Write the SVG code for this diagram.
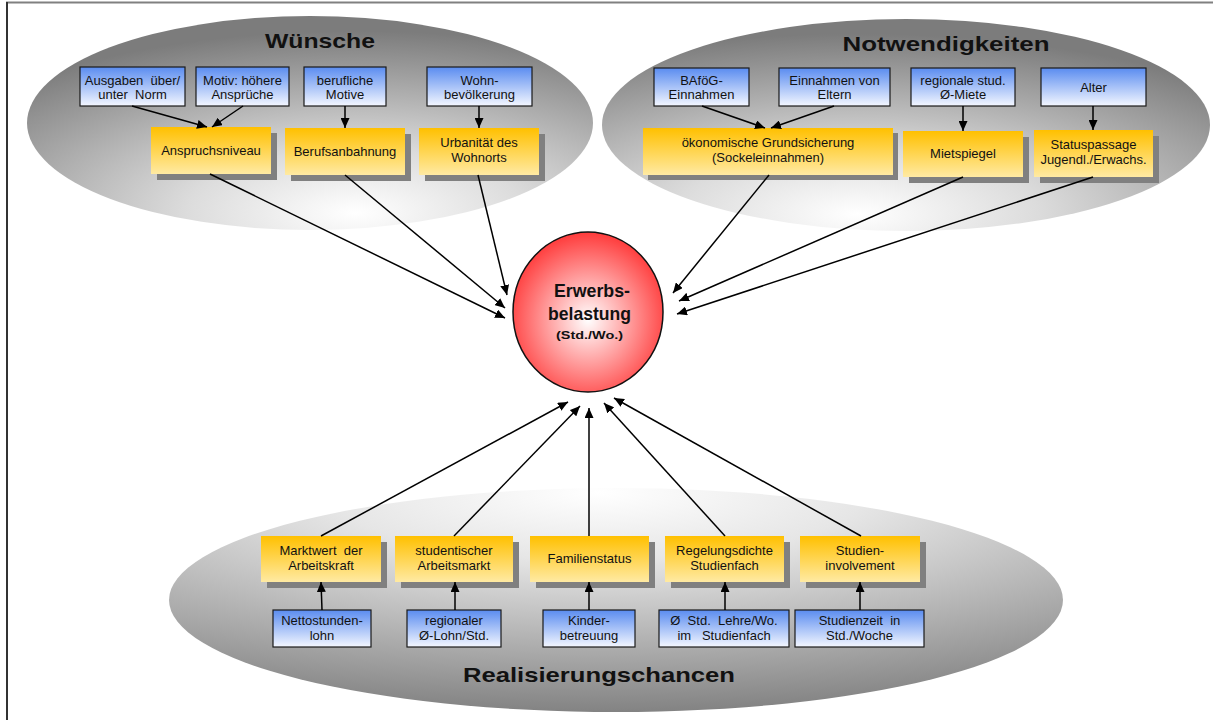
<svg xmlns="http://www.w3.org/2000/svg" width="1218" height="724" viewBox="0 0 1218 724" xml:space="preserve">
<defs>
<radialGradient id="gW" cx="0.58" cy="0.92" r="0.85" fx="0.58" fy="0.92">
<stop offset="0" stop-color="#ffffff"/><stop offset="0.35" stop-color="#dcdcdc"/><stop offset="1" stop-color="#7c7c7c"/>
</radialGradient>
<radialGradient id="gN" cx="0.42" cy="0.92" r="0.85" fx="0.42" fy="0.92">
<stop offset="0" stop-color="#ffffff"/><stop offset="0.35" stop-color="#dcdcdc"/><stop offset="1" stop-color="#7c7c7c"/>
</radialGradient>
<radialGradient id="gR" cx="0.48" cy="0.02" r="1.0" fx="0.48" fy="0.02">
<stop offset="0" stop-color="#ffffff"/><stop offset="0.3" stop-color="#e6e6e6"/><stop offset="1" stop-color="#808080"/>
</radialGradient>
<radialGradient id="gC" cx="0.5" cy="0.55" r="0.55">
<stop offset="0" stop-color="#ffffff"/><stop offset="1" stop-color="#ff3b3b"/>
</radialGradient>
<linearGradient id="gO" x1="0" y1="0" x2="0" y2="1">
<stop offset="0" stop-color="#ffc000"/><stop offset="1" stop-color="#ffeaa3"/>
</linearGradient>
<linearGradient id="gB" x1="0" y1="0" x2="0" y2="1">
<stop offset="0" stop-color="#5a8cf0"/><stop offset="1" stop-color="#f4f7ff"/>
</linearGradient>
<marker id="ah" markerUnits="userSpaceOnUse" markerWidth="11" markerHeight="9" refX="10" refY="4.5" orient="auto">
<path d="M0,0 L10,4.5 L0,9 z" fill="#000"/>
</marker>
<style>
.t{font-family:"Liberation Sans",Arial,sans-serif;font-size:13px;fill:#111;text-anchor:middle;white-space:pre}
.h{font-family:"Liberation Sans",Arial,sans-serif;font-weight:bold;font-size:21px;fill:#111;text-anchor:middle}
.o{fill:url(#gO)}
.s{fill:#808080}
.b{fill:url(#gB);stroke:#1a1a1a;stroke-width:1.2}
.c line{stroke:#000;stroke-width:1.5;marker-end:url(#ah)}
</style>
</defs>
<rect x="0" y="0" width="1218" height="724" fill="#fff"/>
<line x1="6" y1="2.5" x2="1213" y2="2.5" stroke="#808080" stroke-width="2"/>
<line x1="7" y1="2" x2="7" y2="720" stroke="#333" stroke-width="2"/>
<g id="wuensche">
<ellipse cx="310" cy="123" rx="283" ry="107" fill="url(#gW)"/>
<text class="h" x="320" y="48" textLength="110" lengthAdjust="spacingAndGlyphs">Wünsche</text>
</g>
<g id="notwendigkeiten">
<ellipse cx="906" cy="125" rx="304" ry="106" fill="url(#gN)"/>
<text class="h" x="946" y="51" textLength="207" lengthAdjust="spacingAndGlyphs">Notwendigkeiten</text>
</g>
<g id="realisierungschancen">
<ellipse cx="616" cy="600" rx="447" ry="112" fill="url(#gR)"/>
<text class="h" x="599" y="682" textLength="272" lengthAdjust="spacingAndGlyphs">Realisierungschancen</text>
</g>
<g id="b1"><rect class="b" x="80" y="67" width="105" height="39"/><text class="t" x="132.5" y="85">Ausgaben  über/</text><text class="t" x="132.5" y="99">unter  Norm</text></g>
<g id="b2"><rect class="b" x="196" y="67" width="93" height="39"/><text class="t" x="242.5" y="85">Motiv: höhere</text><text class="t" x="242.5" y="99">Ansprüche</text></g>
<g id="b3"><rect class="b" x="304" y="67" width="82" height="39"/><text class="t" x="345" y="85">berufliche</text><text class="t" x="345" y="99">Motive</text></g>
<g id="b4"><rect class="b" x="427" y="67" width="105" height="39"/><text class="t" x="479.5" y="85">Wohn-</text><text class="t" x="479.5" y="99">bevölkerung</text></g>
<g id="o1"><rect class="s" x="157" y="133" width="120" height="47"/><rect class="o" x="151" y="127" width="120" height="47"/><text class="t" x="211" y="155">Anspruchsniveau</text></g>
<g id="o2"><rect class="s" x="291" y="134" width="120" height="47"/><rect class="o" x="285" y="128" width="120" height="47"/><text class="t" x="345" y="156">Berufsanbahnung</text></g>
<g id="o3"><rect class="s" x="425" y="134" width="120" height="47"/><rect class="o" x="419" y="128" width="120" height="47"/><text class="t" x="479" y="147">Urbanität des</text><text class="t" x="479" y="162">Wohnorts</text></g>
<g id="b5"><rect class="b" x="654" y="68" width="95" height="38"/><text class="t" x="701.5" y="85">BAföG-</text><text class="t" x="701.5" y="99">Einnahmen</text></g>
<g id="b6"><rect class="b" x="779" y="68" width="111" height="38"/><text class="t" x="834.5" y="85">Einnahmen von</text><text class="t" x="834.5" y="99">Eltern</text></g>
<g id="b7"><rect class="b" x="911" y="68" width="104" height="38"/><text class="t" x="963" y="85">regionale stud.</text><text class="t" x="963" y="99">Ø-Miete</text></g>
<g id="b8"><rect class="b" x="1041" y="68" width="105" height="38"/><text class="t" x="1093.5" y="92">Alter</text></g>
<g id="o4"><rect class="s" x="648" y="133" width="250" height="47"/><rect class="o" x="643" y="128" width="250" height="47"/><text class="t" x="768" y="147">ökonomische Grundsicherung</text><text class="t" x="768" y="162">(Sockeleinnahmen)</text></g>
<g id="o5"><rect class="s" x="909" y="137" width="120" height="46"/><rect class="o" x="903" y="131" width="120" height="46"/><text class="t" x="963" y="158">Mietspiegel</text></g>
<g id="o6"><rect class="s" x="1040" y="136" width="119" height="47"/><rect class="o" x="1034" y="130" width="119" height="47"/><text class="t" x="1093.5" y="149">Statuspassage</text><text class="t" x="1093.5" y="164">Jugendl./Erwachs.</text></g>
<g id="o7"><rect class="s" x="267" y="542" width="120" height="46"/><rect class="o" x="261" y="536" width="120" height="46"/><text class="t" x="321" y="555">Marktwert  der</text><text class="t" x="321" y="570">Arbeitskraft</text></g>
<g id="o8"><rect class="s" x="401" y="542" width="118" height="46"/><rect class="o" x="395" y="536" width="118" height="46"/><text class="t" x="454" y="555">studentischer</text><text class="t" x="454" y="570">Arbeitsmarkt</text></g>
<g id="o9"><rect class="s" x="536" y="542" width="119" height="46"/><rect class="o" x="530" y="536" width="119" height="46"/><text class="t" x="589.5" y="563">Familienstatus</text></g>
<g id="o10"><rect class="s" x="671" y="542" width="119" height="46"/><rect class="o" x="665" y="536" width="119" height="46"/><text class="t" x="724.5" y="555">Regelungsdichte</text><text class="t" x="724.5" y="570">Studienfach</text></g>
<g id="o11"><rect class="s" x="806" y="542" width="120" height="46"/><rect class="o" x="800" y="536" width="120" height="46"/><text class="t" x="860" y="555">Studien-</text><text class="t" x="860" y="570">involvement</text></g>
<g id="b9"><rect class="b" x="273" y="610" width="98" height="37"/><text class="t" x="322" y="625">Nettostunden-</text><text class="t" x="322" y="640">lohn</text></g>
<g id="b10"><rect class="b" x="407" y="610" width="94" height="37"/><text class="t" x="454" y="625">regionaler</text><text class="t" x="454" y="640">Ø-Lohn/Std.</text></g>
<g id="b11"><rect class="b" x="543" y="610" width="92" height="37"/><text class="t" x="589" y="625">Kinder-</text><text class="t" x="589" y="640">betreuung</text></g>
<g id="b12"><rect class="b" x="659" y="610" width="130" height="37"/><text class="t" x="724" y="625">Ø  Std.  Lehre/Wo.</text><text class="t" x="724" y="640">im   Studienfach</text></g>
<g id="b13"><rect class="b" x="795" y="610" width="129" height="37"/><text class="t" x="859.5" y="625">Studienzeit  in</text><text class="t" x="859.5" y="640">Std./Woche</text></g>
<g id="erwerbsbelastung">
<ellipse cx="588" cy="312" rx="75" ry="80" fill="url(#gC)" stroke="#111" stroke-width="1.5"/>
<text class="h" x="592" y="297" style="font-size:19px" textLength="76" lengthAdjust="spacingAndGlyphs">Erwerbs-</text>
<text class="h" x="589.5" y="320" style="font-size:19px" textLength="83" lengthAdjust="spacingAndGlyphs">belastung</text>
<text class="h" x="589.5" y="339" style="font-size:11px" textLength="67" lengthAdjust="spacingAndGlyphs">(Std./Wo.)</text>
</g>
<g id="connectors" class="c">
<line x1="132" y1="106" x2="207" y2="127"/>
<line x1="243" y1="106" x2="212" y2="127"/>
<line x1="345" y1="106" x2="345" y2="128"/>
<line x1="479" y1="106" x2="479" y2="128"/>
<line x1="702" y1="106" x2="765" y2="128"/>
<line x1="834" y1="106" x2="771" y2="128"/>
<line x1="963" y1="106" x2="963" y2="131"/>
<line x1="1093" y1="106" x2="1093" y2="130"/>
<line x1="322" y1="610" x2="321" y2="582"/>
<line x1="455" y1="610" x2="455" y2="582"/>
<line x1="589" y1="610" x2="589" y2="582"/>
<line x1="725" y1="610" x2="725" y2="582"/>
<line x1="860" y1="610" x2="860" y2="582"/>
<line x1="210" y1="174" x2="505" y2="318"/>
<line x1="345" y1="175" x2="505" y2="308"/>
<line x1="478" y1="175" x2="507" y2="295"/>
<line x1="769" y1="175" x2="673" y2="293"/>
<line x1="963" y1="177" x2="679" y2="301"/>
<line x1="1093" y1="177" x2="677" y2="314"/>
<line x1="321" y1="536" x2="568" y2="402"/>
<line x1="454" y1="536" x2="580" y2="406"/>
<line x1="589" y1="536" x2="589" y2="408"/>
<line x1="725" y1="536" x2="604" y2="403"/>
<line x1="861" y1="536" x2="614" y2="398"/>
</g>
</svg>
